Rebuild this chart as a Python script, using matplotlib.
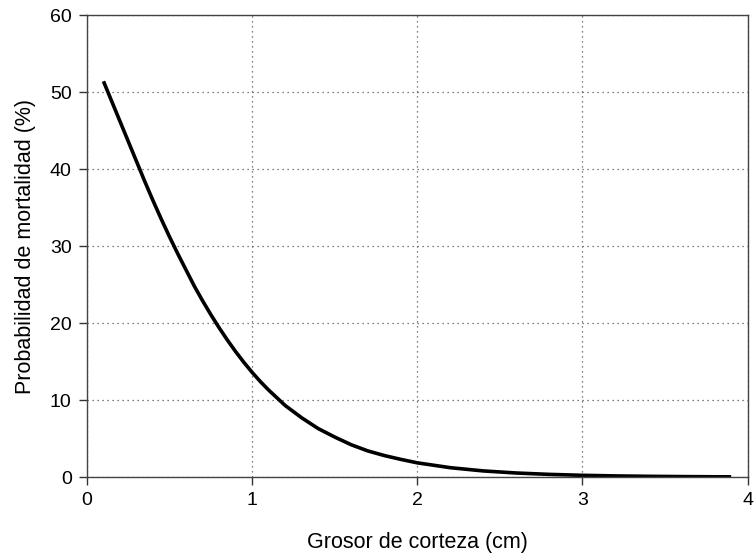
import numpy as np
import matplotlib.pyplot as plt

plt.rcParams['font.family'] = ['Liberation Sans', 'DejaVu Sans']

# grosor de corteza (cm) vs probabilidad de mortalidad (%)
grosor = [0.1, 0.15, 0.2, 0.25, 0.3, 0.35, 0.4, 0.45, 0.5, 0.55, 0.6, 0.65,
          0.7, 0.75, 0.8, 0.85, 0.9, 0.95, 1.0, 1.05, 1.1, 1.15, 1.2, 1.25,
          1.3, 1.4, 1.5, 1.6, 1.7, 1.8, 1.9, 2.0,
          2.2, 2.4, 2.6, 2.8, 3.0, 3.2, 3.4, 3.6, 3.8, 3.9]
mortalidad = [51.4, 48.8, 46.2, 43.6, 41.0, 38.4, 35.9, 33.5, 31.2, 29.0, 26.9, 24.8,
              22.9, 21.1, 19.4, 17.8, 16.3, 14.9, 13.6, 12.4, 11.3, 10.3, 9.3, 8.5,
              7.7, 6.3, 5.2, 4.2, 3.4, 2.8, 2.3, 1.85,
              1.22, 0.80, 0.53, 0.35, 0.23, 0.15, 0.10, 0.065, 0.04, 0.035]

xticks = [0, 1, 2, 3, 4]
yticks = [0, 10, 20, 30, 40, 50, 60]

fig = plt.figure(figsize=(7.56, 5.58), dpi=100)
ax = fig.add_axes([0.115, 0.145, 0.874, 0.828])

ax.plot(grosor, mortalidad, color='black', lw=2.6, solid_capstyle='butt')

ax.set_xlim(0, 4)
ax.set_ylim(0, 60)
ax.set_xticks(xticks)
ax.set_yticks(yticks)
ax.grid(True, linestyle=(0, (1, 3)), color='#555555', lw=0.9)
ax.set_axisbelow(True)

for s in ax.spines.values():
    s.set_color('#444444')
    s.set_linewidth(1.0)

ax.tick_params(axis='both', direction='out', length=6, width=1,
               color='#333333', labelsize=14, pad=5)
ax.set_xlabel('Grosor de corteza (cm)', fontsize=15.5, labelpad=16)
ax.set_ylabel('Probabilidad de mortalidad (%)', fontsize=15.5, labelpad=10)

plt.savefig('out.png', dpi=100)
